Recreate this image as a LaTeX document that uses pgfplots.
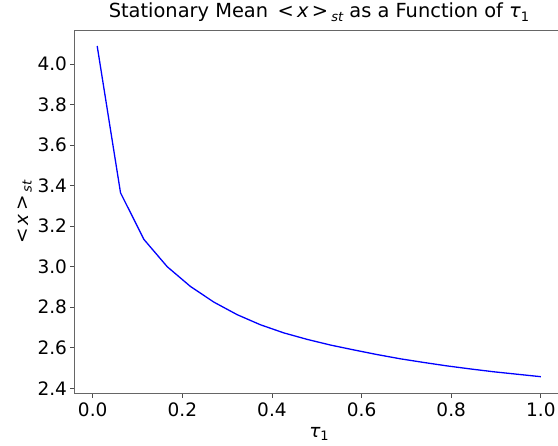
\documentclass[border=0pt]{standalone}
\usepackage{fontspec}
\setmainfont{DejaVu Sans}
\usepackage{pgfplots}
\pgfplotsset{compat=1.18}
\newcommand{\fs}{\fontsize{18.5}{22}\selectfont}
\newcommand{\fst}{\fontsize{19.4}{23}\selectfont}
\newcommand{\sub}[1]{\raisebox{-0.35ex}{\fontsize{13}{15}\selectfont #1}}
\begin{document}
\begin{tikzpicture}[x=1pt,y=1pt]
\path[use as bounding box] (0,0) rectangle (558,446);
\begin{axis}[
  at={(75pt,52.7pt)}, anchor=south west,
  scale only axis, width=488pt, height=362.3pt,
  xmin=-0.0395, xmax=1.0495, ymin=2.375, ymax=4.164,
  xtick={0,0.2,0.4,0.6,0.8,1.0},
  ytick={2.4,2.6,2.8,3.0,3.2,3.4,3.6,3.8,4.0},
  /pgf/number format/fixed,
  /pgf/number format/fixed zerofill,
  /pgf/number format/precision=1,
  /pgf/number format/assume math mode=true,
  tick label style={font=\fs, black},
  xtick pos=bottom, ytick pos=left,
  tick align=outside, major tick length=4.5pt,
  every tick/.style={black!70, line width=0.8pt},
  axis line style={black!60, line width=1pt},
  xticklabel style={yshift=-1pt},
  title={Stationary Mean \,<\,\textit{x}\,>\,\sub{\itshape st} as a Function of \textit{τ}\sub{1}},
  title style={font=\fst, at={(0.5,1)}, anchor=base, yshift=7pt},
  xlabel={\textit{τ}\sub{1}},
  xlabel style={font=\fs, at={(0.5,0)}, anchor=base, yshift=-44pt},
  ylabel={<\,\textit{x}\,>\,\sub{\itshape st}},
  ylabel style={font=\fs, at={(axis description cs:-0.0963,0.5)}, anchor=base, rotate=0},
]
\addplot[blue, line width=1.3pt, mark=none] coordinates {
(0.01,4.09)
(0.06210526,3.365)
(0.11421053,3.135)
(0.16631579,3.000)
(0.21842105,2.902)
(0.27052632,2.825)
(0.32263158,2.763)
(0.37473684,2.713)
(0.42684211,2.673)
(0.47894737,2.641)
(0.53105263,2.613)
(0.58315789,2.589)
(0.63526316,2.566)
(0.68736842,2.545)
(0.73947368,2.527)
(0.79157895,2.510)
(0.84368421,2.495)
(0.89578947,2.481)
(0.94789474,2.469)
(1.0,2.457)
};
\end{axis}
\end{tikzpicture}
\end{document}
